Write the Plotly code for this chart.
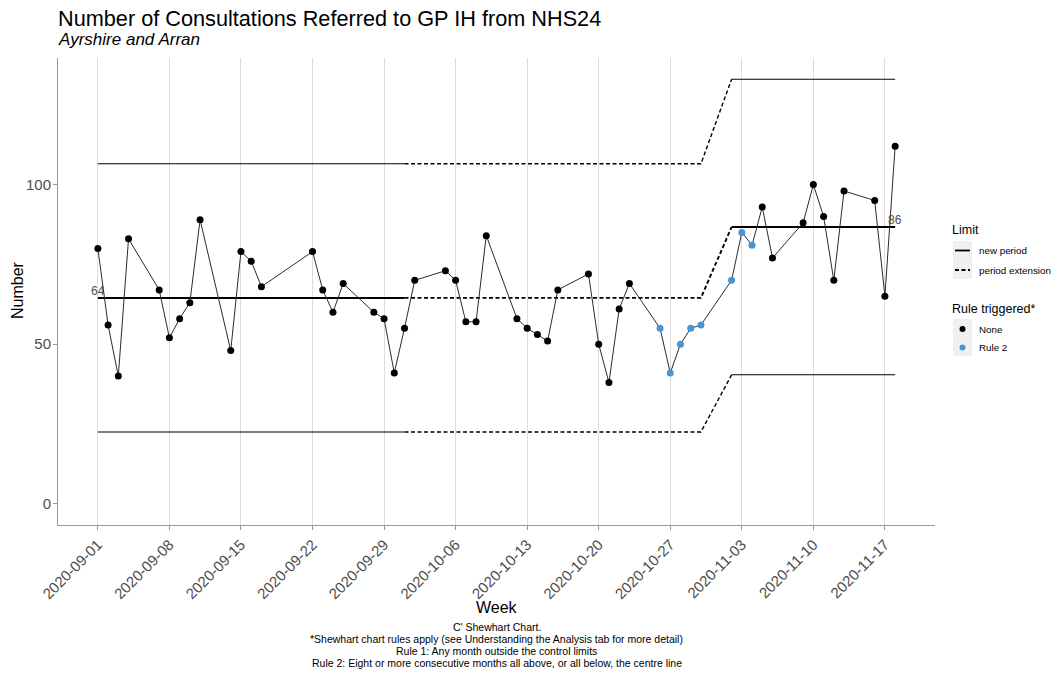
import pandas as pd
import plotly.graph_objects as go

# ---- data ----
dates = [
    "2020-09-01", "2020-09-02", "2020-09-03", "2020-09-04",
    "2020-09-07", "2020-09-08", "2020-09-09", "2020-09-10", "2020-09-11",
    "2020-09-14", "2020-09-15", "2020-09-16", "2020-09-17",
    "2020-09-22", "2020-09-23", "2020-09-24", "2020-09-25",
    "2020-09-28", "2020-09-29", "2020-09-30", "2020-10-01", "2020-10-02",
    "2020-10-05", "2020-10-06", "2020-10-07", "2020-10-08", "2020-10-09",
    "2020-10-12", "2020-10-13", "2020-10-14", "2020-10-15", "2020-10-16",
    "2020-10-19", "2020-10-20", "2020-10-21", "2020-10-22", "2020-10-23",
    "2020-10-26", "2020-10-27", "2020-10-28", "2020-10-29", "2020-10-30",
    "2020-11-02", "2020-11-03", "2020-11-04", "2020-11-05", "2020-11-06",
    "2020-11-09", "2020-11-10", "2020-11-11", "2020-11-12", "2020-11-13",
    "2020-11-16", "2020-11-17", "2020-11-18",
]
values = [
    80, 56, 40, 83,
    67, 52, 58, 63, 89,
    48, 79, 76, 68,
    79, 67, 60, 69,
    60, 58, 41, 55, 70,
    73, 70, 57, 57, 84,
    58, 55, 53, 51, 67,
    72, 50, 38, 61, 69,
    55, 41, 50, 55, 56,
    70, 85, 81, 93, 77,
    88, 100, 90, 70, 98,
    95, 65, 112,
]
rule = ["None"] * 37 + ["Rule 2"] * 8 + ["None"] * 10

# control limits: period 1 (solid), extension (dashed), period 2 (solid)
p1_dates = ["2020-09-01", "2020-10-01"]
p1_centre = [64.5, 64.5]
p1_upper = [106.5, 106.5]
p1_lower = [22.5, 22.5]

ext_dates = ["2020-10-01", "2020-10-30", "2020-11-02"]
ext_centre = [64.5, 64.5, 86.7]
ext_upper = [106.5, 106.5, 133.0]
ext_lower = [22.5, 22.5, 40.4]

p2_dates = ["2020-11-02", "2020-11-18"]
p2_centre = [86.7, 86.7]
p2_upper = [133.0, 133.0]
p2_lower = [40.4, 40.4]

centre_labels = ["64", "86"]
centre_label_dates = ["2020-09-01", "2020-11-18"]
centre_label_values = [64.5, 86.7]

tick_dates = ["2020-09-01", "2020-09-08", "2020-09-15", "2020-09-22", "2020-09-29",
              "2020-10-06", "2020-10-13", "2020-10-20", "2020-10-27", "2020-11-03",
              "2020-11-10", "2020-11-17"]

limit_legend = ["new period", "period extension"]
rule_legend = ["None", "Rule 2"]

captions = [
    "C' Shewhart Chart.",
    "*Shewhart chart rules apply (see Understanding the Analysis tab for more detail)",
    "Rule 1: Any month outside the control limits",
    "Rule 2: Eight or more consecutive months all above, or all below, the centre line",
]

# ---- figure ----
FONT = "Liberation Sans, Arial, sans-serif"
BLUE = "#4a94d3"
DASH = "4px,2.5px"
fig = go.Figure()

# geometry (page body margin removed via post_script, so figure px == window px)
W, H = 1055, 674
ML, MT = 58, 58
MR = W - 935
MB = H - 525
PW, PH = W - ML - MR, H - MT - MB


def px_x(x):  # window px -> paper x
    return (x - ML) / PW


def px_y(y):  # window px -> paper y
    return 1 - (y - MT) / PH


def limit_line(x, y, dash, width):
    fig.add_trace(go.Scatter(
        x=x, y=y, mode="lines", line=dict(color="black", width=width, dash=dash),
        showlegend=False, hoverinfo="skip"))


for arr_p1, arr_ext, arr_p2, w, we in [(p1_upper, ext_upper, p2_upper, 1.1, 1.4),
                                       (p1_lower, ext_lower, p2_lower, 1.1, 1.4),
                                       (p1_centre, ext_centre, p2_centre, 2.0, 1.9)]:
    limit_line(p1_dates, arr_p1, "solid", w)
    limit_line(ext_dates, arr_ext, DASH, we)
    limit_line(p2_dates, arr_p2, "solid", w)

# connecting line
fig.add_trace(go.Scatter(
    x=dates, y=values, mode="lines",
    line=dict(color="#2b2b2b", width=1), showlegend=False, hoverinfo="skip"))

# points
df = pd.DataFrame({"date": dates, "value": values, "rule": rule})
for r, col in [("None", "black"), ("Rule 2", BLUE)]:
    sub = df[df["rule"] == r]
    fig.add_trace(go.Scatter(
        x=sub["date"], y=sub["value"], mode="markers",
        marker=dict(color=col, size=7), name=r, showlegend=False))

# centre labels
for lab, d, v in zip(centre_labels, centre_label_dates, centre_label_values):
    fig.add_annotation(x=d, y=v, text=lab, showarrow=False, yshift=7,
                       font=dict(family=FONT, size=12, color="#4d4d4d"))

# axis ranges (5% expansion)
start = pd.Timestamp(dates[0])
end = pd.Timestamp(dates[-1])
span = end - start
x_range = [start - span * 0.05, end + span * 0.05]
ymax = max(ext_upper + p2_upper)
y_range = [-0.05 * ymax, ymax * 1.05]

texts = [
    dict(text="Number of Consultations Referred to GP IH from NHS24", x=px_x(56), y=px_y(18),
         xanchor="left", font=dict(family=FONT, size=21.7, color="black")),
    dict(text="<i>Ayrshire and Arran</i>", x=px_x(56), y=px_y(40),
         xanchor="left", font=dict(family=FONT, size=17, color="black")),
    dict(text="Week", x=0.5, y=px_y(607), xanchor="center",
         font=dict(family=FONT, size=16, color="black")),
    dict(text="Number", x=px_x(17), y=px_y(290), xanchor="center", textangle=-90,
         font=dict(family=FONT, size=16, color="black")),
    dict(text="Limit", x=px_x(950), y=px_y(230), xanchor="left",
         font=dict(family=FONT, size=12.5, color="black")),
    dict(text="Rule triggered*", x=px_x(950), y=px_y(308.5), xanchor="left",
         font=dict(family=FONT, size=12.5, color="black")),
]
for i, c in enumerate(captions):
    texts.append(dict(text=c, x=0.5, y=px_y(627 + 12 * i), xanchor="center",
                      font=dict(family=FONT, size=10.5, color="black")))

# manual legend
KEYBG = "#f0f0f0"
fig.add_shape(type="rect", xref="paper", yref="paper", x0=px_x(953), x1=px_x(972),
              y0=px_y(241), y1=px_y(279), fillcolor=KEYBG, line_width=0, layer="below")
fig.add_shape(type="rect", xref="paper", yref="paper", x0=px_x(953), x1=px_x(972),
              y0=px_y(319), y1=px_y(356), fillcolor=KEYBG, line_width=0, layer="below")
for lab, yy, dash in zip(limit_legend, [250.5, 270], ["solid", DASH]):
    fig.add_shape(type="line", xref="paper", yref="paper", x0=px_x(955), x1=px_x(970),
                  y0=px_y(yy), y1=px_y(yy), line=dict(color="black", width=1.8, dash=dash))
    texts.append(dict(text=lab, x=px_x(977), y=px_y(yy), xanchor="left",
                      font=dict(family=FONT, size=9.8, color="black")))
for lab, yy, col in zip(rule_legend, [329, 347.5], ["black", BLUE]):
    fig.add_shape(type="circle", xref="paper", yref="paper", x0=px_x(959.5), x1=px_x(965.5),
                  y0=px_y(yy - 3), y1=px_y(yy + 3), fillcolor=col, line_width=0)
    texts.append(dict(text=lab, x=px_x(977), y=px_y(yy), xanchor="left",
                      font=dict(family=FONT, size=9.8, color="black")))

for a in texts:
    fig.add_annotation(xref="paper", yref="paper", showarrow=False, yanchor="middle", **a)

fig.update_layout(
    width=W, height=H,
    margin=dict(l=ML, r=MR, t=MT, b=MB, autoexpand=False),
    paper_bgcolor="white", plot_bgcolor="white",
    font=dict(family=FONT, color="black"),
    showlegend=False,
    xaxis=dict(range=x_range, tickvals=tick_dates, ticktext=tick_dates,
               tickangle=-45, tickfont=dict(family=FONT, size=15, color="#4d4d4d"),
               showgrid=True, gridcolor="#dcdcdc", gridwidth=1,
               showline=True, linecolor="#999999", linewidth=1,
               ticks="outside", ticklen=4, tickcolor="#999999", zeroline=False,
               automargin=False),
    yaxis=dict(range=y_range, tickvals=[0, 50, 100],
               tickfont=dict(family=FONT, size=15, color="#4d4d4d"),
               showgrid=False, showline=True, linecolor="#999999", linewidth=1,
               ticks="outside", ticklen=4, tickcolor="#999999", zeroline=False,
               ticklabelstandoff=-1, automargin=False),
)

fig.write_html("out.html",
               config={"displayModeBar": False},
               post_script="document.body.style.margin='0';"
                           "document.body.style.overflow='hidden';")
